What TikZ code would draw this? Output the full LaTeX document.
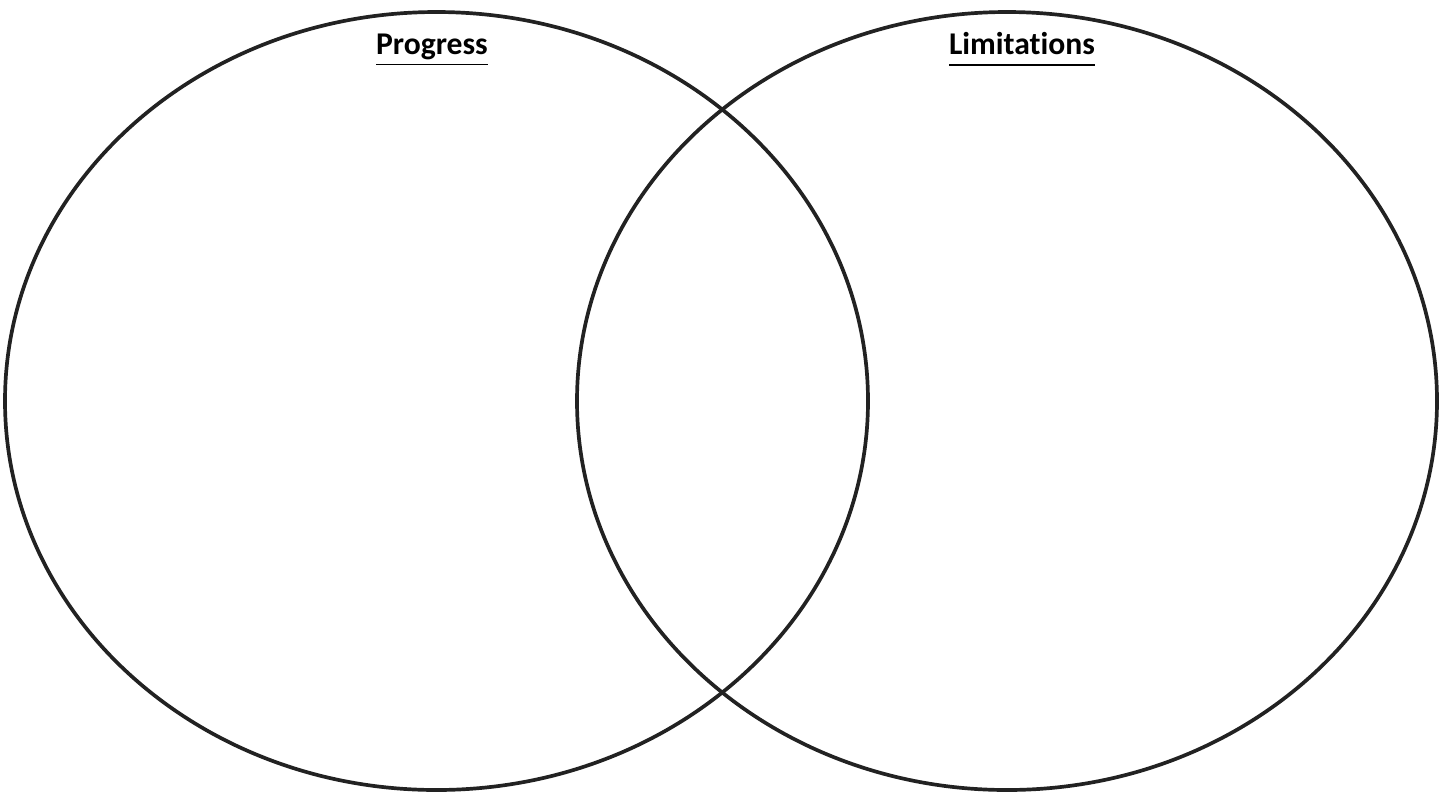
\documentclass[tikz,border=0pt]{standalone}
\usepackage{fontspec}
\setmainfont{Carlito}[Ligatures=NoCommon]
\usepackage{xcolor}
\usetikzlibrary{positioning,shapes.geometric}
\definecolor{ink}{HTML}{222222}
\tikzset{
    every picture/.style={line cap=round,line join=round},
    setring/.style={draw=ink,ellipse,line width=1.05pt,inner sep=0pt,
      minimum width=86.3mm,minimum height=77.8mm},
    settitle/.style={text=black,font=\fontsize{9}{11}\selectfont\bfseries,inner sep=1pt}
}
\begin{document}
\begin{tikzpicture}
  \useasboundingbox (0,0) rectangle (14.40,-7.96);
  \node[setring] (progress) at (4.365,-4.01) {};
  \node[setring,minimum width=86.0mm] (limits) at (10.07,-4.01) {};
  \node[settitle] (ptitle) at (4.32,-0.50) {\underline{Progress}};
  \node[settitle] (ltitle) at (10.22,-0.50) {\underline{Limitations\vphantom{g}}};
\end{tikzpicture}
\end{document}
